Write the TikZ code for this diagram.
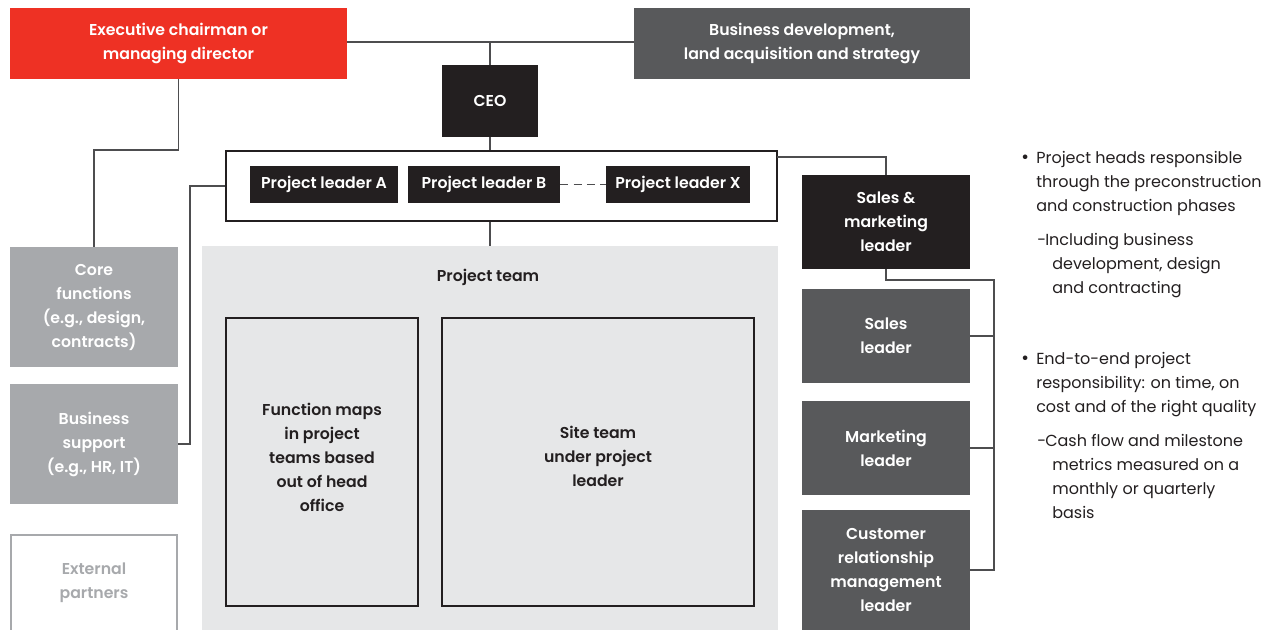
\documentclass[tikz,border=0pt]{standalone}
\usepackage{fontspec}
\setmainfont{Poppins}[BoldFont={Poppins SemiBold}]
\definecolor{cred}{HTML}{EE3124}
\definecolor{cdark}{HTML}{58595B}
\definecolor{cblack}{HTML}{231F20}
\definecolor{cgray}{HTML}{A7A9AC}
\definecolor{cpale}{HTML}{E6E7E8}
\definecolor{cline}{HTML}{4D4D4F}
\begin{document}
\begin{tikzpicture}[x=0.75pt,y=-0.75pt,
  box/.style args={#1/#2}{minimum width=#1*0.75pt, minimum height=#2*0.75pt, inner sep=0pt, align=center,
     font=\fontsize{11.8}{18}\selectfont\bfseries},
  redbox/.style={box=#1, fill=cred, text=white},
  darkbox/.style={box=#1, fill=cdark, text=white},
  blackbox/.style={box=#1, fill=cblack, text=white},
  graybox/.style={box=#1, fill=cgray, text=white},
  conn/.style={draw=cline, line width=0.8pt},
  body/.style={anchor=base west, inner sep=0pt, font=\fontsize{12}{18}\selectfont, text=cblack},
  boldtxt/.style={font=\fontsize{11.8}{18}\selectfont\bfseries, align=center, text=cblack}]
\useasboundingbox (0,0) rectangle (1269,630);
\fill[white] (0,0) rectangle (1269,630);

% project team area
\node[box=576/384, fill=cpale] (team) at (490,438) {};
\node[boldtxt] (teamlbl) at (488,277) {Project team};
\node[box=192/288, draw=cblack, line width=0.8pt] (fmap) at (322,462) {};
\node[boldtxt] (fmaptxt) at (322,457) {Function maps\\in project\\teams based\\out of head\\office};
\node[box=312/288, draw=cblack, line width=0.8pt] (site) at (598,462) {};
\node[boldtxt] (sitetxt) at (598,456) {Site team\\under project\\leader};

% top
\node[redbox=337/71] (exec) at (178.5,43.5) {Executive chairman or\\managing director};
\node[darkbox=336/71] (biz) at (802,43.5) {Business development,\\land acquisition and strategy};
\node[blackbox=96/72] (ceo) at (490,101) {CEO};

% project leaders
\node[box=551/70, draw=cblack, line width=0.8pt, fill=white] (proj) at (501.5,186) {};
\node[blackbox=148/37] (plA) at (324,184.5) {Project leader A};
\node[blackbox=152/37] (plB) at (484,184.5) {Project leader B};
\node[blackbox=144/37] (plX) at (678,184.5) {Project leader X};
\draw[conn, dashed, dash pattern=on 6pt off 4pt] (plB.east) -- (plX.west);

% left column
\node[graybox=168/120] (core) at (94,307) {Core\\functions\\(e.g., design,\\contracts)};
\node[graybox=168/120] (bizsup) at (94,444) {Business\\support\\(e.g., HR, IT)};
\node[box=166/96, draw=cgray, line width=1.6pt, text=cgray] (ext) at (94,583) {External\\partners};

% right column
\node[blackbox=168/94] (sm) at (886,222) {Sales \&\\marketing\\leader};
\node[darkbox=168/94] (sales) at (886,336) {Sales\\leader};
\node[darkbox=168/94] (mkt) at (886,448) {Marketing\\leader};
\node[darkbox=168/120] (crm) at (886,570) {Customer\\relationship\\management\\leader};

% connectors
\draw[conn] (exec.east |- 0,42) -- (biz.west |- 0,42);
\draw[conn] (ceo.north) -- (ceo.north |- 0,42);
\draw[conn] (ceo.south) -- (ceo.south |- proj.north);
\draw[conn] (ceo.south |- proj.south) -- (ceo.south |- team.north);
\coordinate (ex1) at (178.5,150);
\draw[conn] (exec.south) -- (ex1) -| (core.north);
\coordinate (bs1) at (190,444);
\draw[conn] (bizsup.east) -- (bs1) |- (proj.west);
\coordinate (pj) at (777,157);
\draw[conn] (pj) -| (sm.north);
\coordinate (r1) at (994,280);
\coordinate (r2) at (994,570);
\draw[conn] (sm.south) |- (r1) -- (r2) -- (crm.east |- r2);
\draw[conn] (sales.east) -- (sales.east -| r1);
\draw[conn] (mkt.east) -- (mkt.east -| r1);

% notes
\node[body, font=\fontsize{14}{18}\selectfont] (b1) at (1021,164) {•};
\node[body] (t1a) at (1036,164) {Project heads responsible};
\node[body] (t1b) at (1036,188) {through the preconstruction};
\node[body] (t1c) at (1036,212) {and construction phases};
\node[body] (d1) at (1037,246) {-};
\node[body] (s1a) at (1045,246) {Including business};
\node[body] (s1b) at (1052,270) {development, design};
\node[body] (s1c) at (1052,294) {and contracting};
\node[body, font=\fontsize{14}{18}\selectfont] (b2) at (1021,364) {•};
\node[body] (t2a) at (1036,364) {End-to-end project};
\node[body] (t2b) at (1036,388) {responsibility: on time, on};
\node[body] (t2c) at (1036,412) {cost and of the right quality};
\node[body] (d2) at (1037,446) {-};
\node[body] (s2a) at (1045,446) {Cash flow and milestone};
\node[body] (s2b) at (1052,470) {metrics measured on a};
\node[body] (s2c) at (1052,494) {monthly or quarterly};
\node[body] (s2d) at (1052,518) {basis};
\end{tikzpicture}
\end{document}
